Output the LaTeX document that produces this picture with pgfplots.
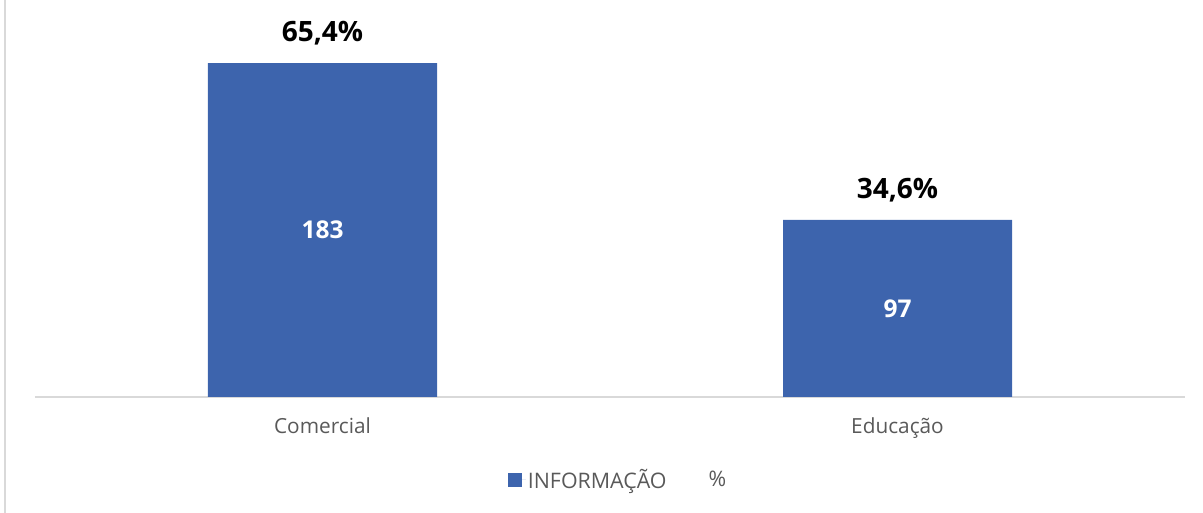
\documentclass[border=0pt]{standalone}
\usepackage{pgfplots}
\pgfplotsset{compat=1.18}
\usepackage{fontspec}
\setmainfont{Open Sans}
\definecolor{barblue}{HTML}{3D64AD}
\definecolor{labelgray}{HTML}{595959}
\definecolor{linegray}{HTML}{D9D9D9}
\begin{document}
\begin{tikzpicture}[x=1pt,y=1pt]
\path[use as bounding box] (0,0) rectangle (1203,513);
% chart border, only its left side is visible
\draw[linegray, line width=2pt] (5,-2) -- (5,515);
\begin{axis}[
  at={(35pt,116pt)}, anchor=south west,
  scale only axis,
  width=1150pt, height=377pt,
  xmin=-0.5, xmax=1.5,
  ymin=0, ymax=206.6,
  enlargelimits=false,
  clip=false,
  hide y axis,
  axis x line*=bottom,
  x axis line style={draw=linegray, line width=2pt, -},
  xtick={0,1},
  xticklabels={Comercial, Educação},
  major tick length=0pt,
  xticklabel style={anchor=base, yshift=-37pt, text=labelgray,
    font=\fontsize{20.8}{24}\selectfont},
  legend columns=2,
  legend cell align=left,
  legend style={draw=none, fill=none, at={(0.507,-0.22)}, anchor=center,
    text=labelgray, font=\fontsize{21.4}{24}\selectfont,
    /tikz/every even column/.append style={column sep=24pt}},
]
% counts
\addplot[ybar, bar width=229pt, fill=barblue, draw=none,
  legend image code/.code={\fill[barblue] (0pt,-7pt) rectangle (14pt,7pt);
    \path (14pt,0pt) -- (18pt,0pt);},
  visualization depends on=y \as \rawy,
  nodes near coords={\pgfmathprintnumber[assume math mode=true]{\pgfplotspointmeta}},
  every node near coord/.append style={anchor=center, text=white,
    font=\fontsize{24.5}{28}\selectfont\bfseries,
    shift={(axis direction cs:0,-\rawy/2)}},
] coordinates {(0,183) (1,97)};
\addlegendentry{INFORMAÇÃO}
% shares
\addplot[draw=none, mark=none,
  legend image code/.code={\path (0pt,-7pt) rectangle (14pt,7pt);},
  point meta=explicit symbolic,
  nodes near coords,
  every node near coord/.append style={anchor=base, yshift=21.5pt, text=black,
    font=\fontsize{28}{32}\selectfont\bfseries},
] coordinates {(0,183) [65,4\%] (1,97) [34,6\%]};
\addlegendentry{\%}
\end{axis}
\end{tikzpicture}
\end{document}
